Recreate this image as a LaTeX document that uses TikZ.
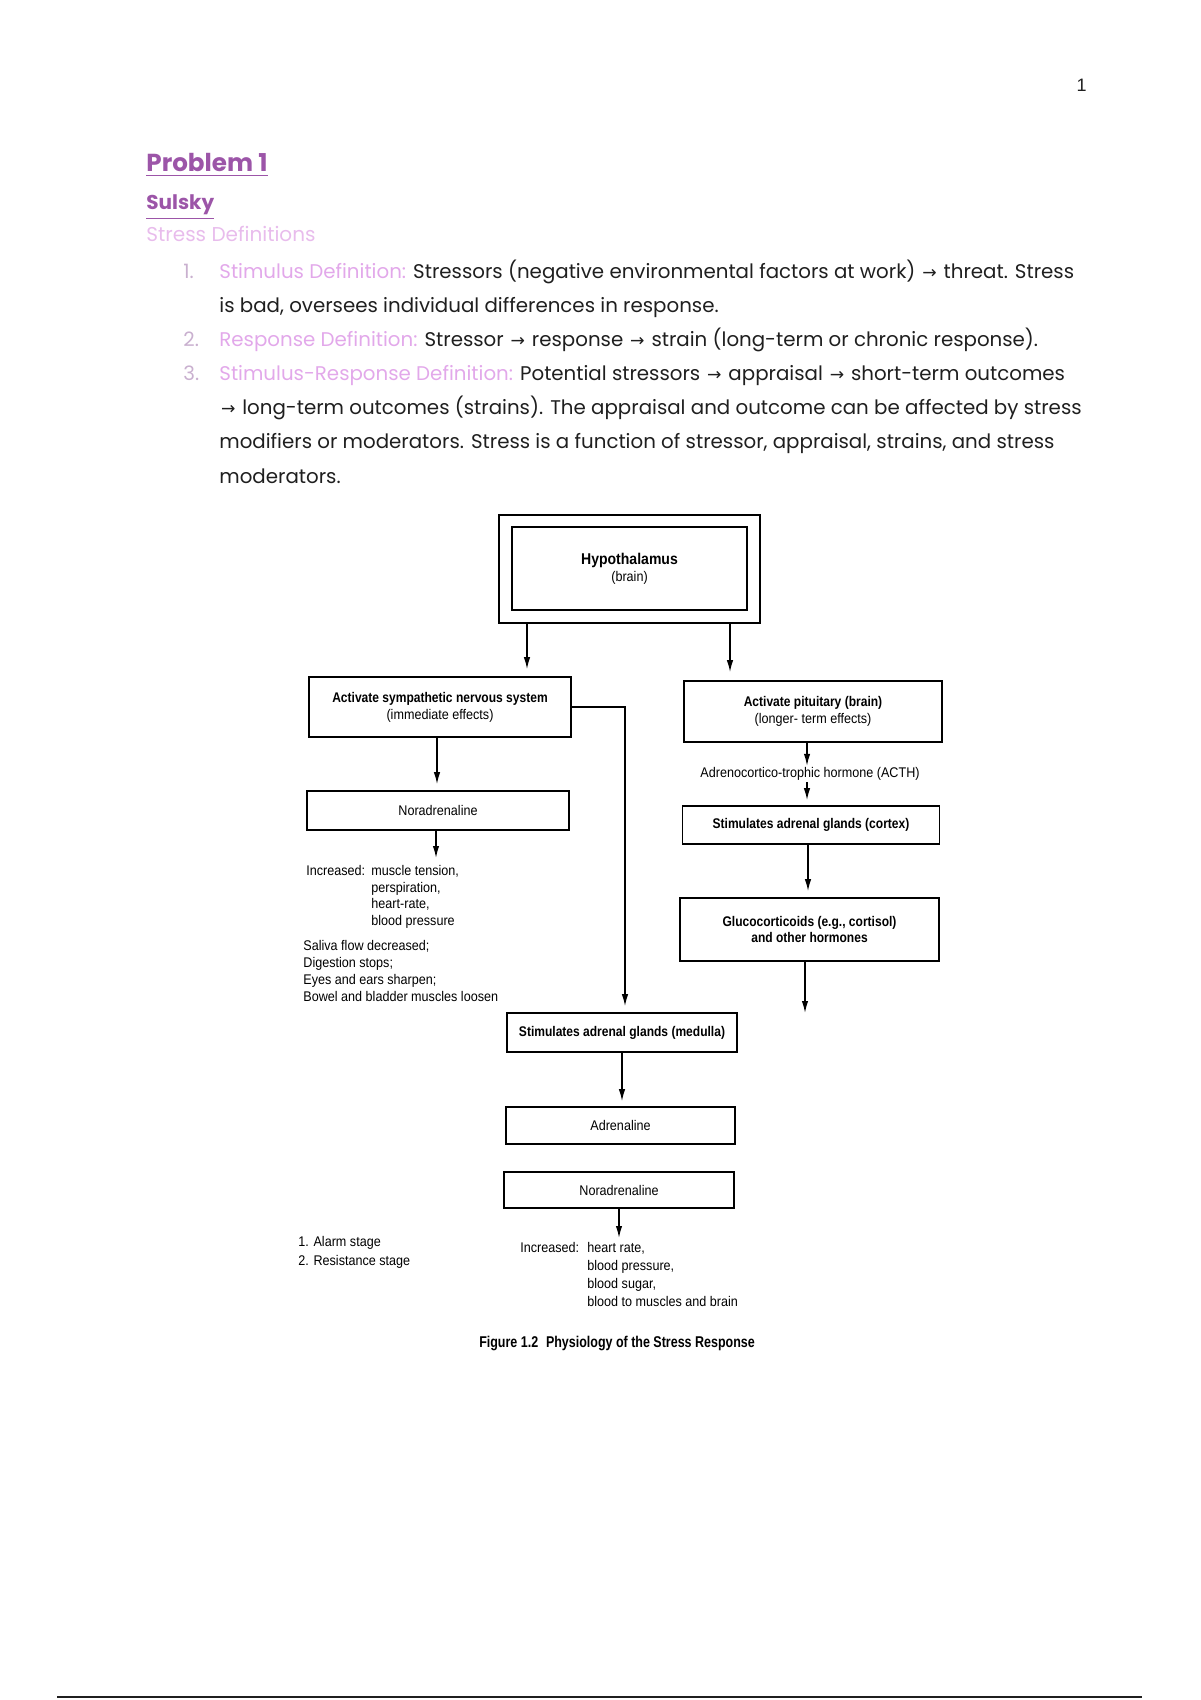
\documentclass[tikz,border=0pt]{standalone}
\usepackage{fontspec}
\setmainfont{Poppins}
\newfontfamily\diagf[FakeStretch=0.9]{Liberation Sans}
\newfontfamily\diagb[FakeStretch=0.86]{Liberation Sans}
\newfontfamily\capf[FakeStretch=0.8]{Liberation Sans}
\newfontfamily\symf{DejaVu Sans}
\newfontfamily\pagef{Liberation Sans}
\usetikzlibrary{arrows.meta,calc}
\definecolor{headpurple}{HTML}{9C55A8}
\definecolor{subpink}{HTML}{E8BCEC}
\definecolor{lblpink}{HTML}{E2A8EA}
\definecolor{numgray}{HTML}{C9B0CF}
\definecolor{ink}{HTML}{1F1F1F}
\newcommand\rarr{\kern0.8pt{\symf\fontsize{8.6}{8.6}\selectfont →}\kern0.8pt}
\newcommand\lbl[1]{{\color{lblpink}#1}}
\newcommand\hd[1]{{\diagb\bfseries #1}}
\tikzset{
  box/.style={draw, line width=0.8pt, inner sep=0pt, align=center,
    font=\diagf\fontsize{7}{8.4}\selectfont},
  hdbox/.style={box, font=\diagb\bfseries\fontsize{7}{8.4}\selectfont},
  arr/.style={-{Latex[length=6pt,width=3.2pt]}, line width=0.7pt},
  note/.style={anchor=north west, inner sep=0pt, align=left,
    font=\diagf\fontsize{7}{8.5}\selectfont},
  body/.style={anchor=base west, inner sep=0pt, text=ink,
    font=\fontsize{9.9}{17}\selectfont},
  num/.style={body, text=numgray},
}
\begin{document}
\begin{tikzpicture}[x=0.5pt,y=-0.5pt]
\useasboundingbox (0,0) rectangle (1200,1700);
\node[anchor=base east, inner sep=0pt, text=ink, font=\pagef\fontsize{9}{9}\selectfont] (pagenum) at (1087,92) {1};
\node[anchor=base west, inner sep=0pt, text=headpurple, font=\bfseries\fontsize{12.3}{14}\selectfont] (prob) at (146,172) {\underline{Problem 1}};
\node[anchor=base west, inner sep=0pt, text=headpurple, font=\bfseries\fontsize{10}{12}\selectfont] (sulsky) at (146,210) {\underline{Sulsky}};
\node[anchor=base west, inner sep=0pt, text=subpink, font=\fontsize{10}{12}\selectfont] (stressdef) at (146,242) {Stress Definitions};
\node[num] (n1) at (183,279) {1.};
\node[body] (l1) at (219,279) {\lbl{Stimulus Definition:} Stressors (negative environmental factors at work) \rarr{} threat. Stress};
\node[body] (l2) at (219,313) {is bad, oversees individual differences in response.};
\node[num] (n2) at (183,347) {2.};
\node[body] (l3) at (219,347) {\lbl{Response Definition:} Stressor \rarr{} response \rarr{} strain (long-term or chronic response).};
\node[num] (n3) at (183,381) {3.};
\node[body] (l4) at (219,381) {\lbl{Stimulus-Response Definition:} Potential stressors \rarr{} appraisal \rarr{} short-term outcomes};
\node[body] (l5) at (219,415) {\rarr{} long-term outcomes (strains). The appraisal and outcome can be affected by stress};
\node[body] (l6) at (219,449) {modifiers or moderators. Stress is a function of stressor, appraisal, strains, and stress};
\node[body] (l7) at (219,483) {moderators.};

\node[box, minimum width=130.5pt, minimum height=54pt] (hypoframe) at (629.5,569) {};
\node[box, minimum width=117.5pt, minimum height=41.5pt] (hypo) at (629.5,568.5) {{\diagf\bfseries\fontsize{7.8}{9.5}\selectfont Hypothalamus}\\(brain)};
\node[box, minimum width=131pt, minimum height=30pt] (sns) at (440,707) {\hd{Activate sympathetic nervous system}\\(immediate effects)};
\node[box, minimum width=129pt, minimum height=30.5pt] (pit) at (813,711.5) {\hd{Activate pituitary (brain)}\\(longer- term effects)};
\node[box, minimum width=131pt, minimum height=19.5pt] (norl) at (438,810.5) {Noradrenaline};
\node[inner sep=0.6pt, font=\diagf\fontsize{7}{8.4}\selectfont] (acth) at (810,774) {Adrenocortico-trophic hormone (ACTH)};
\node[hdbox, minimum width=128.5pt, minimum height=19pt] (cortex) at (811,825) {Stimulates adrenal glands (cortex)};
\node[hdbox, minimum width=129.5pt, minimum height=31.5pt] (gluco) at (809.5,929.5) {Glucocorticoids (e.g., cortisol)\\and other hormones};
\node[hdbox, minimum width=115pt, minimum height=19.5pt] (medulla) at (622,1032.5) {Stimulates adrenal glands (medulla)};
\node[box, minimum width=114.5pt, minimum height=18.5pt] (adren) at (620.5,1125.5) {Adrenaline};
\node[box, minimum width=115pt, minimum height=18pt] (norb) at (619,1190) {Noradrenaline};

\node[note] (incl) at (306,865) {Increased:};
\node[note, font=\diagf\fontsize{7}{8.3}\selectfont] (incllist) at (371,865) {muscle tension,\\perspiration,\\heart-rate,\\blood pressure};
\node[note] (saliva) at (303,940) {Saliva flow decreased;\\Digestion stops;\\Eyes and ears sharpen;\\Bowel and bladder muscles loosen};
\node[note, font=\diagf\fontsize{7}{9.3}\selectfont] (stages) at (298,1236) {1. Alarm stage\\2. Resistance stage};
\node[note] (incb) at (520,1242) {Increased:};
\node[note, font=\diagf\fontsize{7}{9}\selectfont] (incblist) at (587,1242) {heart rate,\\blood pressure,\\blood sugar,\\blood to muscles and brain};
\node[font=\capf\bfseries\fontsize{7.8}{9}\selectfont, inner sep=0pt] (caption) at (617,1343) {Figure 1.2\enspace Physiology of the Stress Response};

\coordinate (norlend) at (436,858);
\coordinate (glucoend) at (805,1013);
\coordinate (norbend) at (619,1238);

\draw[arr, shorten >=3.5pt] (hypoframe.south -| 527,0) -- (sns.north -| 527,0);
\draw[arr, shorten >=4pt] (hypoframe.south -| 730,0) -- (pit.north -| 730,0);
\draw[arr, shorten >=3pt] (sns.south -| 437,0) -- (norl.north -| 437,0);
\draw[arr] (norl.south -| 436,0) -- (norlend);
\draw[arr, shorten >=3pt] (sns.east) -| ([xshift=1.5pt]medulla.north);
\draw[arr] (pit.south -| 807,0) -- (acth.north -| 807,0);
\draw[arr, shorten >=2.5pt] (acth.south -| 807,0) -- (cortex.north -| 807,0);
\draw[arr, shorten >=3pt] (cortex.south -| 808,0) -- (gluco.north -| 808,0);
\draw[arr] (gluco.south -| 805,0) -- (glucoend);
\draw[arr, shorten >=2.5pt] (medulla.south -| 622,0) -- (adren.north -| 622,0);
\draw[arr] (norb.south -| 619,0) -- (norbend);

\draw[line width=1pt, ink] (57,1697) -- (1142,1697);
\end{tikzpicture}
\end{document}
